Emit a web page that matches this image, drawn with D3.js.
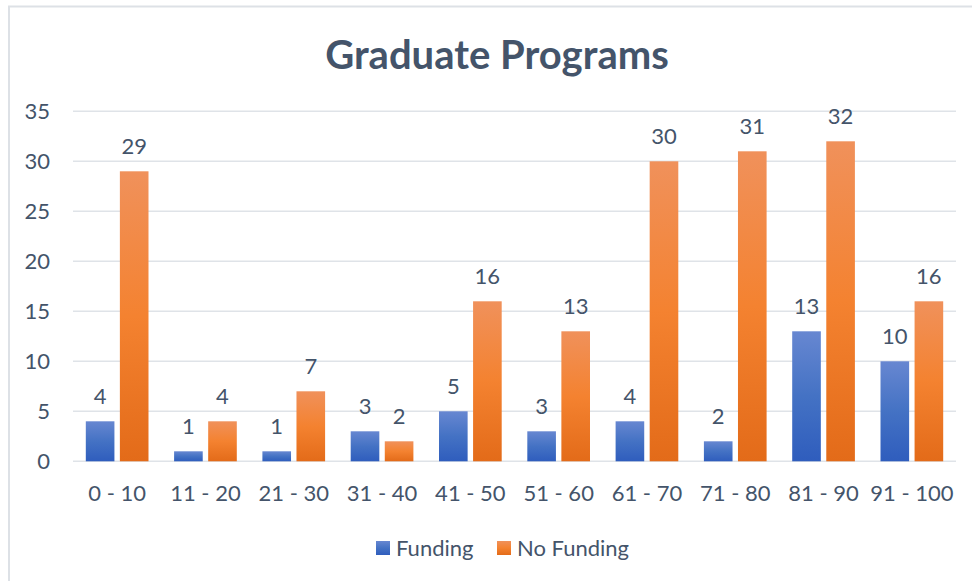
<!DOCTYPE html>
<html>
<head>
<meta charset="utf-8">
<script src="https://cdn.jsdelivr.net/npm/d3@7"></script>
<style>
  body { margin: 0; background: #fff; }
  svg { display: block; font-family: Lato, "Open Sans", sans-serif; }
</style>
</head>
<body>
<div id="chart"></div>
<script>
var categories = ["0 - 10", "11 - 20", "21 - 30", "31 - 40", "41 - 50", "51 - 60", "61 - 70", "71 - 80", "81 - 90", "91 - 100"];
var seriesNames = ["Funding", "No Funding"];
var funding = [4, 1, 1, 3, 5, 3, 4, 2, 13, 10];
var noFunding = [29, 4, 7, 2, 16, 13, 30, 31, 32, 16];
var yTicks = [0, 5, 10, 15, 20, 25, 30, 35];

var w = 972, h = 581;
var textColor = "#44546A";
var fontSize = 22;
var svg = d3.select("#chart").append("svg").attr("width", w).attr("height", h);

// gradients like the office "light gradient" fill
var defs = svg.append("defs");
function addGradient(id, stops) {
  var g = defs.append("linearGradient").attr("id", id)
    .attr("x1", 0).attr("y1", 0).attr("x2", 0).attr("y2", 1);
  stops.forEach(s => g.append("stop").attr("offset", s[0]).attr("stop-color", s[1]));
}
addGradient("gBlue", [[0, "#6787d1"], [0.5, "#4472c4"], [1, "#2f5dbd"]]);
addGradient("gOrange", [[0, "#f0915b"], [0.5, "#f48230"], [1, "#e36b19"]]);
var fills = ["url(#gBlue)", "url(#gOrange)"];

// outer frame (top + left edges visible)
svg.append("line").attr("x1", 8).attr("x2", w).attr("y1", 6.5).attr("y2", 6.5)
  .attr("stroke", "#dde1e6").attr("stroke-width", 2);
svg.append("line").attr("x1", 9).attr("x2", 9).attr("y1", 6).attr("y2", h)
  .attr("stroke", "#dde1e6").attr("stroke-width", 2);

svg.append("text").attr("x", 497).attr("y", 69)
  .attr("text-anchor", "middle").attr("font-size", 40).attr("font-weight", "bold")
  .attr("fill", textColor).text("Graduate Programs");

var plotLeft = 73, plotRight = 956, plotTop = 111.3, plotBottom = 461.3;
var y = d3.scaleLinear().domain([0, 35]).range([plotBottom, plotTop]);
var x0 = d3.scaleBand().domain(categories).range([plotLeft, plotRight]).paddingInner(0.29).paddingOuter(0.145);
var x1 = d3.scaleBand().domain(seriesNames).range([0, x0.bandwidth()]).paddingInner(0.16);

// gridlines
svg.append("g").selectAll("line").data(yTicks).enter().append("line")
  .attr("x1", plotLeft).attr("x2", plotRight)
  .attr("y1", d => y(d)).attr("y2", d => y(d))
  .attr("stroke", "#dfe3e8").attr("stroke-width", 1.5);

// y axis labels
var yAxis = d3.axisLeft(y).tickValues(yTicks).tickSize(0).tickPadding(0);
var gy = svg.append("g").attr("transform", "translate(50,0)").call(yAxis);
gy.select(".domain").remove();
gy.selectAll("text").attr("font-size", fontSize).attr("fill", textColor).attr("font-family", "Lato, sans-serif");

// x axis labels
var xAxis = d3.axisBottom(x0).tickSize(0).tickPadding(0);
var gx = svg.append("g").attr("transform", "translate(0,485)").call(xAxis);
gx.select(".domain").remove();
gx.selectAll("text").attr("font-size", fontSize).attr("fill", textColor).attr("font-family", "Lato, sans-serif");

var rows = categories.map((c, i) => ({ cat: c, vals: [funding[i], noFunding[i]] }));

var groups = svg.append("g").selectAll("g").data(rows).enter().append("g")
  .attr("transform", d => "translate(" + x0(d.cat) + ",0)");

groups.selectAll("rect")
  .data(d => d.vals.map((v, k) => ({ name: seriesNames[k], k: k, v: v })))
  .enter().append("rect")
  .attr("x", d => x1(d.name))
  .attr("y", d => y(d.v))
  .attr("width", x1.bandwidth())
  .attr("height", d => y(0) - y(d.v))
  .attr("fill", d => fills[d.k]);

groups.selectAll("text")
  .data(d => d.vals.map((v, k) => ({ name: seriesNames[k], k: k, v: v })))
  .enter().append("text")
  .attr("x", d => x1(d.name) + x1.bandwidth() / 2)
  .attr("y", d => y(d.v) - 17)
  .attr("text-anchor", "middle")
  .attr("font-size", fontSize)
  .attr("fill", textColor)
  .text(d => d.v);

// legend
var legendX = [376, 497];
var legend = svg.append("g").selectAll("g").data(seriesNames).enter().append("g")
  .attr("transform", (d, i) => "translate(" + legendX[i] + ",541)");
legend.append("rect").attr("width", 14).attr("height", 14)
  .attr("fill", (d, i) => fills[i]);
legend.append("text").attr("x", 20).attr("y", 14.5)
  .attr("font-size", fontSize).attr("fill", textColor).text(d => d);
</script>
</body>
</html>
